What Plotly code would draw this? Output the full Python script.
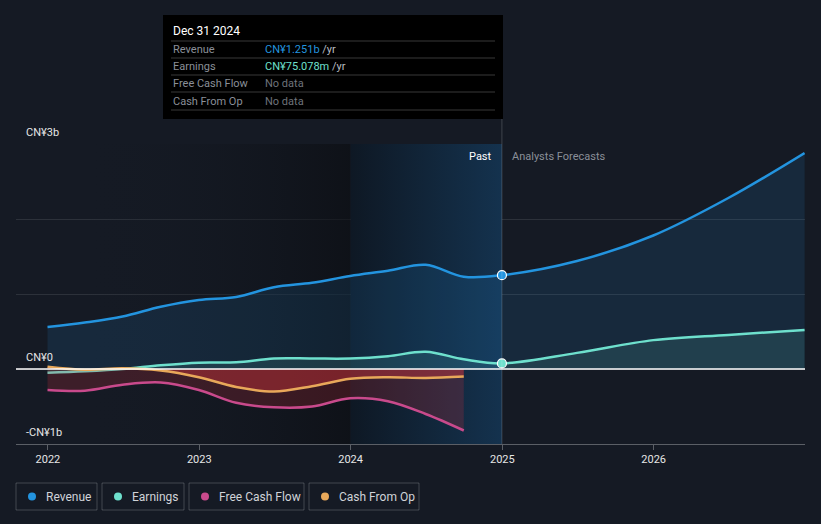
import plotly.graph_objects as go

# values in CN¥ billions
past_dates = ["2021-12-31", "2022-03-31", "2022-06-30", "2022-09-30", "2022-12-31",
              "2023-03-31", "2023-06-30", "2023-09-30", "2023-12-31", "2024-03-31",
              "2024-06-30", "2024-09-30", "2024-12-31"]
revenue_past = [0.56, 0.62, 0.70, 0.83, 0.92, 0.96, 1.09, 1.15, 1.24, 1.31, 1.39, 1.23, 1.251]
earnings_past = [-0.05, -0.03, 0.0, 0.05, 0.085, 0.09, 0.14, 0.14, 0.14, 0.17, 0.23, 0.13, 0.075]

fc_dates = ["2025-06-30", "2025-12-31", "2026-06-30", "2026-12-31"]
revenue_fc = [1.44, 1.78, 2.28, 2.88]
earnings_fc = [0.215, 0.385, 0.455, 0.52]

cash_dates = past_dates[:-1]
fcf = [-0.28, -0.29, -0.21, -0.18, -0.28, -0.45, -0.51, -0.50, -0.39, -0.43, -0.60, -0.82]
cfo = [0.03, -0.01, 0.01, -0.02, -0.11, -0.24, -0.30, -0.23, -0.13, -0.11, -0.12, -0.10]

year_ticks = ["2022-01-01", "2023-01-01", "2024-01-01", "2025-01-01", "2026-01-01"]
year_labels = ["2022", "2023", "2024", "2025", "2026"]

X_RANGE = ["2021-10-16", "2027-01-01"]
Y_RANGE = [-1, 3]
PAST_START = "2024-01-01"
NOW = "2024-12-31"

BG = "#151a24"
C_REV = "#2394df"
C_EARN = "#6ee0cd"
C_FCF = "#c94a8c"
C_CFO = "#e8a85a"
FONT = "Roboto"

W, H = 821, 524
L, R, T, B = 16, 16, 144, 80


def px(x):
    return (x - L) / (W - L - R)


def py(y):
    return (H - B - y) / (H - T - B)


fig = go.Figure()

# background bands
fig.add_trace(go.Scatter(
    x=[X_RANGE[0], PAST_START, PAST_START, X_RANGE[0]],
    y=[Y_RANGE[0], Y_RANGE[0], Y_RANGE[1], Y_RANGE[1]],
    fill="toself", mode="none", hoverinfo="skip",
    fillgradient=dict(type="horizontal",
                      colorscale=[[0, "rgba(21,26,36,0)"], [0.2, "rgba(21,26,36,0)"],
                                  [1, "rgba(10,12,16,0.6)"]]),
))
fig.add_trace(go.Scatter(
    x=[PAST_START, NOW, NOW, PAST_START],
    y=[Y_RANGE[0], Y_RANGE[0], Y_RANGE[1], Y_RANGE[1]],
    fill="toself", mode="none", hoverinfo="skip",
    fillgradient=dict(type="horizontal",
                      colorscale=[[0, "rgba(14,24,36,1)"], [1, "rgba(20,50,78,1)"]]),
))

rev_x = past_dates + fc_dates
rev_y = revenue_past + revenue_fc
earn_y = earnings_past + earnings_fc

fig.add_trace(go.Scatter(
    x=rev_x, y=rev_y, mode="lines", line=dict(color=C_REV, width=2.5, shape="spline"),
    fill="tozeroy", fillcolor="rgba(35,148,223,0.13)", name="Revenue",
))
fig.add_trace(go.Scatter(
    x=rev_x, y=earn_y, mode="lines", line=dict(color=C_EARN, width=2.5, shape="spline"),
    fill="tozeroy", fillcolor="rgba(110,224,205,0.12)", name="Earnings",
))
fig.add_trace(go.Scatter(
    x=cash_dates, y=fcf, mode="lines", line=dict(color=C_FCF, width=2.5, shape="spline"),
    fill="tozeroy", fillcolor="rgba(205,45,60,0.22)", name="Free Cash Flow",
))
fig.add_trace(go.Scatter(
    x=cash_dates, y=cfo, mode="lines", line=dict(color=C_CFO, width=2.5, shape="spline"),
    fill="tozeroy", fillcolor="rgba(225,55,60,0.38)", name="Cash From Op",
))

# current markers
fig.add_trace(go.Scatter(
    x=[NOW, NOW], y=[revenue_past[-1], earnings_past[-1]], mode="markers",
    marker=dict(size=9, color=[C_REV, C_EARN], line=dict(color="white", width=1.2)),
    hoverinfo="skip",
))

shapes = [
    dict(type="line", xref="x", yref="y", x0=X_RANGE[0], x1=X_RANGE[1], y0=0, y1=0,
         line=dict(color="white", width=1.3)),
    dict(type="line", xref="x", yref="paper", x0=NOW, x1=NOW, y0=0, y1=py(119),
         line=dict(color="rgba(255,255,255,0.18)", width=1)),
    dict(type="rect", xref="paper", yref="paper", x0=px(163), x1=px(503), y0=py(119), y1=py(15),
         fillcolor="#000000", line=dict(width=0)),
]
for yy in [41, 58, 75, 92, 110]:
    shapes.append(dict(type="line", xref="paper", yref="paper", x0=px(171), x1=px(495),
                       y0=py(yy), y1=py(yy), line=dict(color="rgba(255,255,255,0.22)", width=1)))

annotations = [
    dict(text="CN¥3b", x=px(24), y=3, yshift=12),
    dict(text="CN¥0", x=px(24), y=0, yshift=12),
    dict(text="-CN¥1b", x=px(24), y=-1, yshift=12),
]
for a in annotations:
    a.update(xref="paper", yref="y", xanchor="left", yanchor="middle", showarrow=False,
             font=dict(color="#e6e6e6", size=11, family=FONT))

annotations += [
    dict(text="Past", x=NOW, xref="x", xshift=-8, xanchor="right", y=py(156), yref="paper",
         font=dict(color="#ffffff", size=11, family=FONT)),
    dict(text="Analysts Forecasts", x=NOW, xref="x", xshift=8, xanchor="left", y=py(156),
         yref="paper", font=dict(color="#8a8f98", size=11, family=FONT)),
    dict(text="Dec 31 2024", x=px(171), xref="paper", xanchor="left", y=py(31), yref="paper",
         font=dict(color="#ffffff", size=12, family=FONT)),
]
rows = [
    ("Revenue", "<span style='color:%s'>CN¥1.251b</span> /yr" % C_REV),
    ("Earnings", "<span style='color:%s'>CN¥75.078m</span> /yr" % C_EARN),
    ("Free Cash Flow", "<span style='color:#6e737b'>No data</span>"),
    ("Cash From Op", "<span style='color:#6e737b'>No data</span>"),
]
for i, (lab, val) in enumerate(rows):
    yy = py(49 + i * 17.4)
    annotations.append(dict(text=lab, x=px(171), xref="paper", xanchor="left", y=yy,
                            yref="paper", font=dict(color="#8a8f98", size=11, family=FONT)))
    annotations.append(dict(text=val, x=px(263), xref="paper", xanchor="left", y=yy,
                            yref="paper", font=dict(color="#b8bcc2", size=11, family=FONT)))

# legend boxes
legend_items = [("Revenue", C_REV, 16, 97), ("Earnings", C_EARN, 102, 184),
                ("Free Cash Flow", C_FCF, 189, 304), ("Cash From Op", C_CFO, 309, 419)]
for lab, col, x0, x1 in legend_items:
    shapes.append(dict(type="rect", xref="paper", yref="paper", x0=px(x0), x1=px(x1),
                       y0=py(510), y1=py(483), line=dict(color="rgba(255,255,255,0.2)", width=1),
                       fillcolor="rgba(0,0,0,0)"))
    shapes.append(dict(type="circle", xref="paper", yref="paper", x0=px(x0 + 12), x1=px(x0 + 20),
                       y0=py(500.5), y1=py(492.5), line=dict(width=0), fillcolor=col))
    annotations.append(dict(text=lab, x=px(x0 + 28), xref="paper", xanchor="left",
                            y=py(496.5), yref="paper",
                            font=dict(color="#d0d3d8", size=12, family=FONT)))

for a in annotations:
    a.setdefault("showarrow", False)
    a.setdefault("yanchor", "middle")

fig.update_layout(
    width=W, height=H,
    margin=dict(l=L, r=R, t=T, b=B),
    paper_bgcolor=BG, plot_bgcolor=BG,
    showlegend=False, hovermode=False,
    shapes=shapes, annotations=annotations,
    font=dict(family=FONT, color="#e6e6e6"),
    xaxis=dict(type="date", range=X_RANGE, tickvals=year_ticks, ticktext=year_labels,
               showgrid=False, zeroline=False, showline=True,
               linecolor="rgba(255,255,255,0.3)", ticks="outside", ticklen=5,
               tickcolor="rgba(255,255,255,0.3)", tickfont=dict(size=11, color="#e6e6e6")),
    yaxis=dict(range=Y_RANGE, tickvals=[-1, 0, 1, 2, 3], showticklabels=False,
               gridcolor="rgba(255,255,255,0.1)", zeroline=False, showline=False),
)

fig.write_html("out.html", config={"displayModeBar": False},
               post_script="document.body.style.margin='0';"
               "document.body.style.background='%s';" % BG)
